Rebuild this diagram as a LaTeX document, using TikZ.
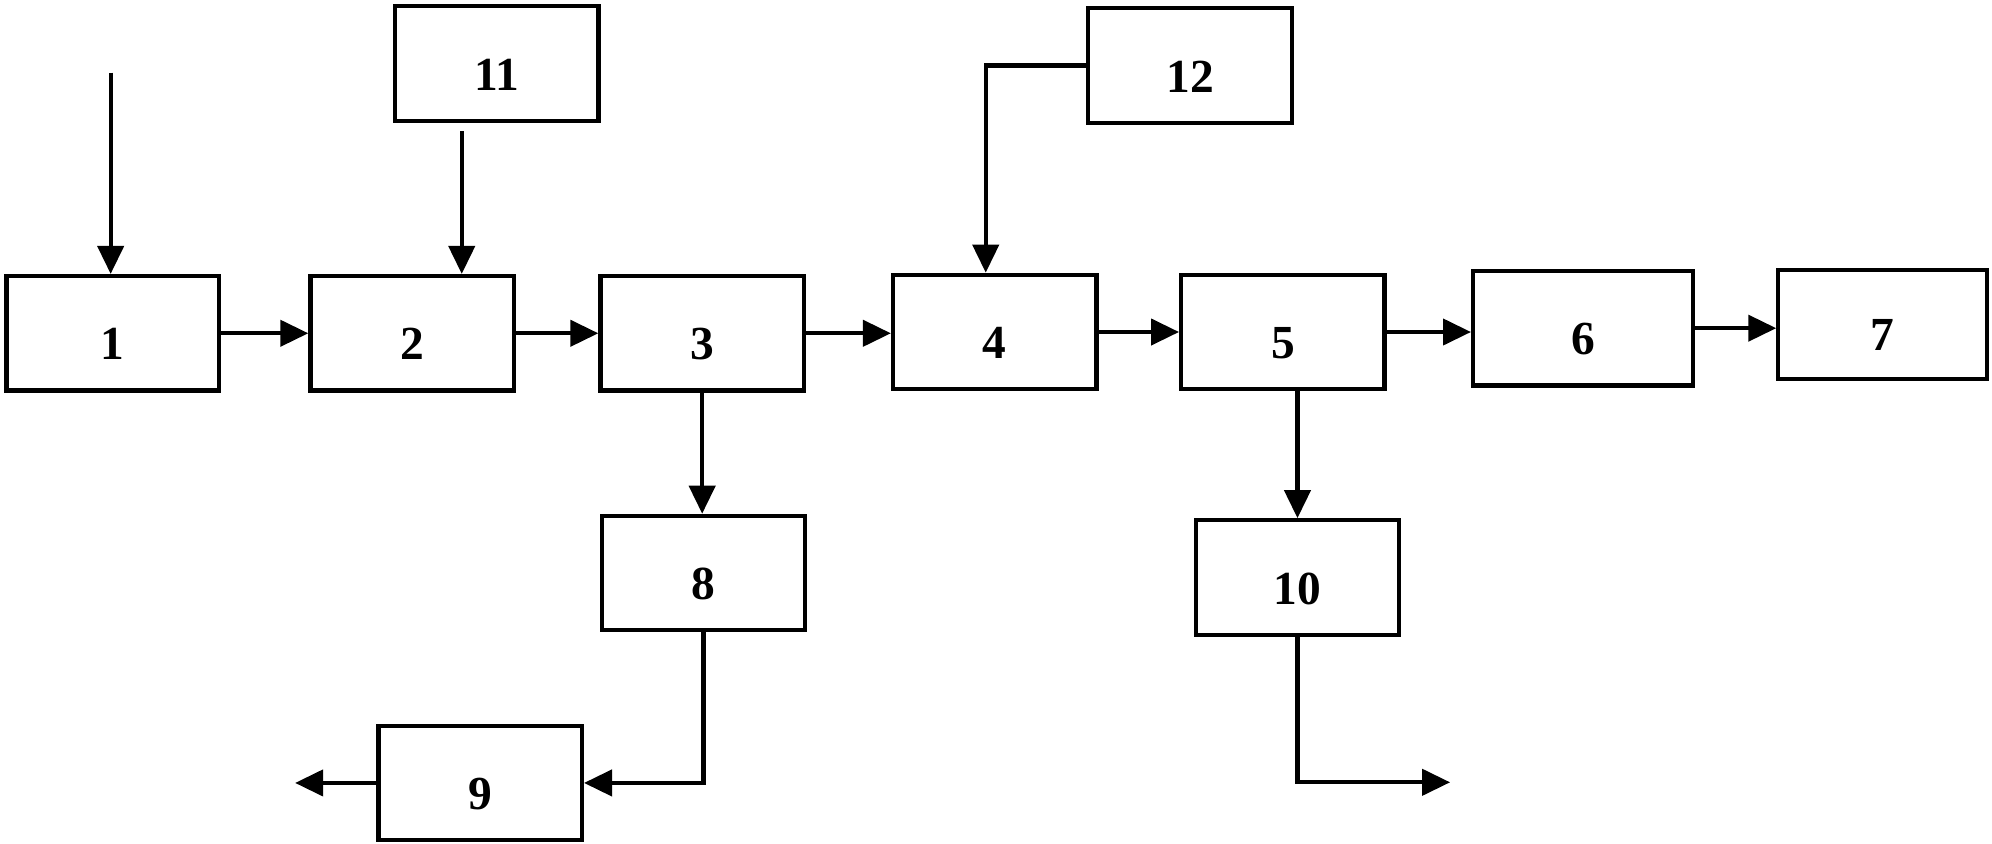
\documentclass[tikz,border=0pt]{standalone}
\usepackage{fontspec}
\setmainfont{Liberation Serif}
\usetikzlibrary{arrows.meta}
\begin{document}
\begin{tikzpicture}[x=0.01272cm,y=-0.01272cm,
    blk/.style={draw,line width=1.2pt,minimum width=2.035cm,minimum height=1.145cm,inner sep=0pt,
      text height=0.53cm,text depth=0pt,font=\bfseries\fontsize{13.5}{15}\selectfont},
    arr/.style={line width=1.2pt,-{Triangle[length=2.8mm,width=2.6mm]}}]
      \useasboundingbox (0,0) rectangle (1566,663);
      % main row
      \node[blk,minimum width=2.124cm] (1) at (88.5,262) {1};
      \node[blk] (2) at (324,262) {2};
      \node[blk] (3) at (552,262) {3};
      \node[blk] (4) at (782,261) {4};
      \node[blk] (5) at (1008.5,261) {5};
      \node[blk,minimum width=2.2cm] (6) at (1244.5,258) {6};
      \node[blk,minimum width=2.086cm,minimum height=1.094cm] (7) at (1480,255) {7};
      % side boxes
      \node[blk] (8) at (553,450.5) {8};
      \node[blk] (9) at (377.5,615.5) {9};
      \node[blk] (10) at (1020,454) {10};
      \node[blk] (11) at (390.5,50) {11};
      \node[blk] (12) at (935.5,51.5) {12};
      \coordinate (in1) at (87,57);
      \coordinate (s11) at (363,103);
      \coordinate (o9) at (232,615.5);
      \coordinate (o10) at (1140,615);
      \draw[arr] (in1) -- (in1 |- 1.north);
      \draw[arr] (s11) -- (s11 |- 2.north);
      \foreach \a/\b in {1/2,2/3,3/4,4/5,5/6,6/7}
        \draw[arr] (\a.east) -- (\a.east -| \b.west);
      \draw[arr] (12.west) -| ([xshift=-0.09cm]4.north);
      \draw[arr] (3.south) -- (3.south |- 8.north);
      \draw[arr] (8.south) |- (9.east);
      \draw[arr] (9.west) -- (o9);
      \draw[arr] (10.north |- 5.south) -- (10.north);
      \draw[arr] (10.south) |- (o10);
\end{tikzpicture}
\end{document}
